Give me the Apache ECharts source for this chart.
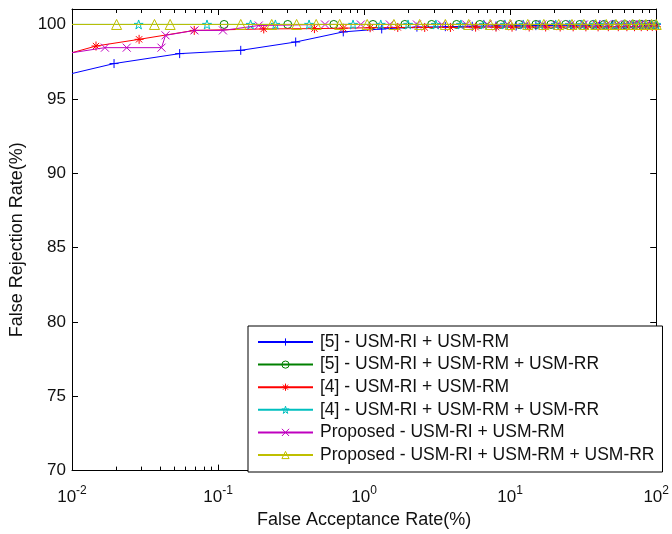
<!DOCTYPE html>
<html>
<head>
<meta charset="utf-8">
<script src="https://cdn.jsdelivr.net/npm/echarts@6/dist/echarts.min.js"></script>
<style>html,body{margin:0;padding:0;background:#fff}#c{width:672px;height:534px}</style>
</head>
<body>
<div id="c"></div>
<script>
const seriesNames = [
  '[5] - USM-RI + USM-RM',
  '[5] - USM-RI + USM-RM + USM-RR',
  '[4] - USM-RI + USM-RM',
  '[4] - USM-RI + USM-RM + USM-RR',
  'Proposed - USM-RI + USM-RM',
  'Proposed - USM-RI + USM-RM + USM-RR'
];
const blueX = [0.01, 0.0194, 0.0546, 0.143, 0.34, 0.72, 1.32, 2.3, 3.6, 5.5, 8, 11, 15, 20, 26, 33, 41, 50, 60, 70, 80, 90, 100];
const blueY = [96.7, 97.37, 98.04, 98.26, 98.82, 99.5, 99.7, 99.82, 99.85, 99.88, 99.9, 99.9, 99.92, 99.93, 99.95, 99.95, 99.97, 100, 100, 100, 100, 100, 100];
const greenX = [0.01, 0.11, 0.3, 0.62, 1.15, 1.9, 2.9, 4.3, 6.2, 8.6, 11.5, 15, 19, 24, 30, 37, 44, 52, 61, 70, 79, 88, 97];
const greenY = [100, 100, 100, 100, 100, 100, 100, 100, 100, 100, 100, 100, 100, 100, 100, 100, 100, 100, 100, 100, 100, 100, 100];
const redX = [0.01, 0.0146, 0.0288, 0.0687, 0.2055, 0.457, 0.72, 1.1, 1.7, 2.6, 3.9, 5.8, 8, 10.3, 13.5, 17.5, 22, 27, 33, 40, 47, 55, 63, 71, 79, 87, 94, 100];
const redY = [98.1, 98.55, 99.0, 99.6, 99.7, 99.72, 99.75, 99.78, 99.8, 99.8, 99.8, 99.82, 99.82, 99.82, 99.83, 99.83, 99.83, 99.84, 99.84, 99.84, 99.85, 99.85, 99.85, 99.85, 99.85, 99.86, 99.86, 99.86];
const cyanX = [0.01, 0.0286, 0.084, 0.167, 0.247, 0.42, 0.84, 1.3, 2.0, 3.1, 4.6, 6.6, 9.2, 12.3, 16, 20.5, 25.5, 31, 37.5, 44.5, 52, 60, 68, 76, 84, 92, 100];
const cyanY = [100, 100, 100, 100, 100, 100, 100, 100, 100, 100, 100, 100, 100, 100, 100, 100, 100, 100, 100, 100, 100, 100, 100, 100, 100, 100, 100];
const magentaX = [0.01, 0.0168, 0.0237, 0.041, 0.0437, 0.069, 0.108, 0.19, 0.54, 0.95, 1.5, 2.3, 3.4, 5, 7, 9.6, 12.8, 16.6, 21, 26, 32, 39, 46, 54, 62, 70, 78, 86, 94];
const magentaY = [98.1, 98.44, 98.44, 98.44, 99.27, 99.6, 99.6, 99.93, 100, 100, 100, 100, 100, 100, 100, 100, 100, 100, 100, 100, 100, 100, 100, 100, 100, 100, 100, 100, 100];
const yellowX = [0.01, 0.0202, 0.0367, 0.047, 0.143, 0.233, 0.345, 0.47, 0.68, 1.05, 1.6, 2.4, 3.6, 5.2, 7.3, 10, 13.2, 17, 21.5, 26.5, 32, 38.5, 45.5, 53, 61, 69, 77, 85, 93, 100];
const yellowY = [100, 100, 100, 100, 100, 100, 100, 100, 100, 100, 100, 100, 100, 100, 100, 100, 100, 100, 100, 100, 100, 100, 100, 100, 100, 100, 100, 100, 100, 100];
const xTicks = [0.01, 0.1, 1, 10, 100];
const yTicks = [70, 75, 80, 85, 90, 95, 100];

const colors = ['#0000ff', '#008000', '#ff0000', '#00bfbf', '#bf00bf', '#bfbf00'];
const PLUS = 'path://M0,-1L0,1M-1,0L1,0';
const CROSS = 'path://M-1,-1L1,1M-1,1L1,-1';
const AST = 'path://M0,-1L0,1M-1,0L1,0M-0.7,-0.7L0.7,0.7M-0.7,0.7L0.7,-0.7';
const STAR = 'path://M0,-1L0.225,-0.31L0.95,-0.31L0.363,0.118L0.588,0.809L0,0.382L-0.588,0.809L-0.363,0.118L-0.95,-0.31L-0.225,-0.31Z';
const symbols = [PLUS, 'circle', AST, STAR, CROSS, 'triangle'];
const sizes = [9, 8, 9, 9, 8, 10];
const xs = [blueX, greenX, redX, cyanX, magentaX, yellowX];
const ys = [blueY, greenY, redY, cyanY, magentaY, yellowY];

function zip(a, b) {
  return a.map((v, i) => (i === 0 ? { value: [v, b[i]], symbol: 'none' } : [v, b[i]]));
}

const series = seriesNames.map((name, k) => ({
  name: name,
  type: 'line',
  data: zip(xs[k], ys[k]),
  xAxisIndex: 0,
  yAxisIndex: 0,
  symbol: symbols[k],
  symbolSize: sizes[k],
  showSymbol: true,
  showAllSymbol: true,
  clip: true,
  animation: false,
  z: 2 + k * 0.01,
  lineStyle: { color: colors[k], width: 1 },
  itemStyle: { color: 'rgba(255,255,255,0)', borderColor: colors[k], borderWidth: 1 },
  emphasis: { disabled: true }
}));

const chart = echarts.init(document.getElementById('c'), null, { renderer: 'canvas' });
const font = '"Liberation Sans", Arial, sans-serif';
const tc = '#111';
chart.setOption({
  backgroundColor: '#fff',
  animation: false,
  textStyle: { fontFamily: font },
  grid: { left: 70, right: 11, top: 9, bottom: 61, containLabel: false },
  legend: {
    data: seriesNames,
    orient: 'vertical',
    left: 248,
    top: 326,
    padding: [7, 8, 8, 9],
    itemWidth: 55,
    itemHeight: 9,
    itemGap: 4.6,
    selectedMode: false,
    backgroundColor: '#fff',
    borderColor: '#000',
    borderWidth: 1,
    borderRadius: 0,
    itemStyle: { color: 'rgba(255,255,255,0)', borderColor: 'inherit', borderWidth: 1 },
    textStyle: { fontFamily: font, fontSize: 17.5, color: tc, lineHeight: 18, padding: [0, 0, 0, 2] }
  },
  xAxis: [{
    type: 'log',
    logBase: 10,
    min: 0.01,
    max: 100,
    name: 'False Acceptance Rate(%)',
    nameLocation: 'middle',
    nameGap: 30,
    nameTextStyle: { fontFamily: font, fontSize: 18, color: tc },
    axisLine: { show: true, lineStyle: { color: '#000', width: 1 } },
    axisTick: { show: true, inside: true, length: 6, lineStyle: { color: '#000' } },
    minorTick: { show: true, splitNumber: 9, length: 4, lineStyle: { color: '#000' } },
    splitLine: { show: false },
    axisLabel: {
      margin: 14,
      formatter: function (v) {
        const e = Math.round(Math.log10(v));
        if (xTicks.indexOf(Math.pow(10, e)) < 0) return '';
        return '{b|10}{s|' + e + '}';
      },
      rich: {
        b: { fontFamily: font, fontSize: 17, color: tc },
        s: { fontFamily: font, fontSize: 12, color: tc, padding: [0, 0, 14, 0] }
      }
    }
  }, {
    type: 'log',
    logBase: 10,
    min: 0.01,
    max: 100,
    position: 'top',
    axisLine: { show: true, lineStyle: { color: '#000', width: 1 } },
    axisTick: { show: true, inside: true, length: 6, lineStyle: { color: '#000' } },
    minorTick: { show: true, splitNumber: 9, length: 4, lineStyle: { color: '#000' } },
    axisLabel: { show: false },
    splitLine: { show: false }
  }],
  yAxis: [{
    type: 'value',
    min: 70,
    max: 101.04,
    interval: 5,
    name: 'False Rejection Rate(%)',
    nameLocation: 'middle',
    nameGap: 46,
    nameTextStyle: { fontFamily: font, fontSize: 18, color: tc },
    axisLine: { show: true, lineStyle: { color: '#000', width: 1 } },
    axisTick: { show: true, inside: true, length: 6, lineStyle: { color: '#000' } },
    splitLine: { show: false },
    axisLabel: {
      margin: 6,
      fontFamily: font, fontSize: 17, color: tc,
      showMaxLabel: false,
      formatter: function (v) { return yTicks.indexOf(v) >= 0 ? String(v) : ''; }
    }
  }, {
    type: 'value',
    min: 70,
    max: 101.04,
    interval: 5,
    position: 'right',
    axisLine: { show: true, lineStyle: { color: '#000', width: 1 } },
    axisTick: { show: true, inside: true, length: 6, lineStyle: { color: '#000' } },
    axisLabel: { show: false },
    splitLine: { show: false }
  }],
  series: series
});
</script>
</body>
</html>
